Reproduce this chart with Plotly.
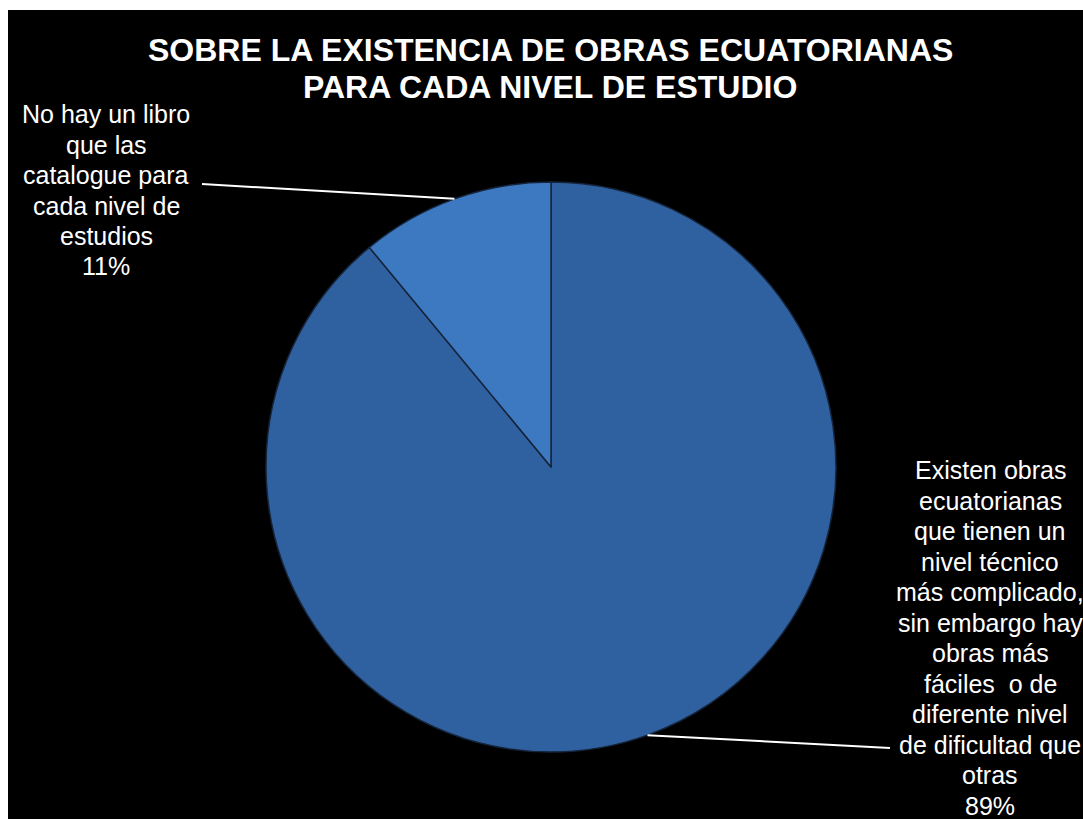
import math
import plotly.graph_objects as go

# ---- data ----
labels = [
    "Existen obras<br>ecuatorianas<br>que tienen un<br>nivel técnico<br>más complicado,<br>sin embargo hay<br>obras más<br>fáciles  o de<br>diferente nivel<br>de dificultad que<br>otras",
    "No hay un libro<br>que las<br>catalogue para<br>cada nivel de<br>estudios",
]
values = [89, 11]
colors = ["#2f609f", "#3c79c1"]
title_lines = ["SOBRE LA EXISTENCIA DE OBRAS ECUATORIANAS", "PARA CADA NIVEL DE ESTUDIO"]

# ---- layout geometry (pixels, from top-left of page) ----
W, H = 1083, 819
cx_px, cy_px, r_px = 551, 467, 285
dom_x = [(cx_px - r_px) / W, (cx_px + r_px) / W]
dom_y = [(H - cy_px - r_px) / H, (H - cy_px + r_px) / H]
cx, cy = cx_px / W, 1 - cy_px / H

label_center_x = [990, 106]
label_first_y = [470, 114]
line_step = 30.5
leader_end = [(890, 748), (202, 184)]
title_y = [50, 87]

font_family = "Liberation Sans, Arial, sans-serif"

fig = go.Figure()
fig.add_trace(go.Pie(
    values=values,
    labels=[l.replace("<br>", " ") for l in labels],
    sort=False,
    direction="clockwise",
    rotation=0,
    textinfo="none",
    marker=dict(colors=colors, line=dict(color="#15243a", width=1.5)),
    domain=dict(x=dom_x, y=dom_y),
    showlegend=False,
))

total = sum(values)
shapes = [dict(type="rect", xref="paper", yref="paper",
               x0=8 / W, x1=1, y0=0, y1=1 - 10 / H,
               fillcolor="black", line=dict(width=0), layer="below")]
annotations = []
cum = 0
for i, v in enumerate(values):
    frac = v / total
    mid = (cum + frac / 2) * 2 * math.pi   # clockwise from 12 o'clock
    cum += frac
    ex = cx + r_px * math.sin(mid) / W
    ey = cy + r_px * math.cos(mid) / H
    lx, ly = leader_end[i]
    shapes.append(dict(type="line", xref="paper", yref="paper",
                       x0=ex, y0=ey, x1=lx / W, y1=1 - ly / H,
                       line=dict(color="white", width=2)))
    pct = round(frac * 100)
    lines = labels[i].split("<br>") + [f"{pct}%"]
    for k, ln in enumerate(lines):
        yk = label_first_y[i] + k * line_step
        annotations.append(dict(
            text=ln, xref="paper", yref="paper",
            x=label_center_x[i] / W, y=1 - yk / H,
            xanchor="center", yanchor="middle",
            align="center", showarrow=False,
            font=dict(family=font_family, size=25, color="white")))

for k, t in enumerate(title_lines):
    annotations.append(dict(
        text=f"<b>{t}</b>", xref="paper", yref="paper",
        x=550 / W, y=1 - title_y[k] / H, xanchor="center", yanchor="middle",
        align="center", showarrow=False,
        font=dict(family=font_family, size=32, color="white")))

fig.update_layout(
    width=W, height=H,
    margin=dict(l=0, r=0, t=0, b=0),
    paper_bgcolor="white",
    plot_bgcolor="white",
    shapes=shapes,
    annotations=annotations,
)

fig.write_html("out.html",
               config={"displayModeBar": False},
               post_script="document.body.style.margin='0';document.body.style.overflow='hidden';")
